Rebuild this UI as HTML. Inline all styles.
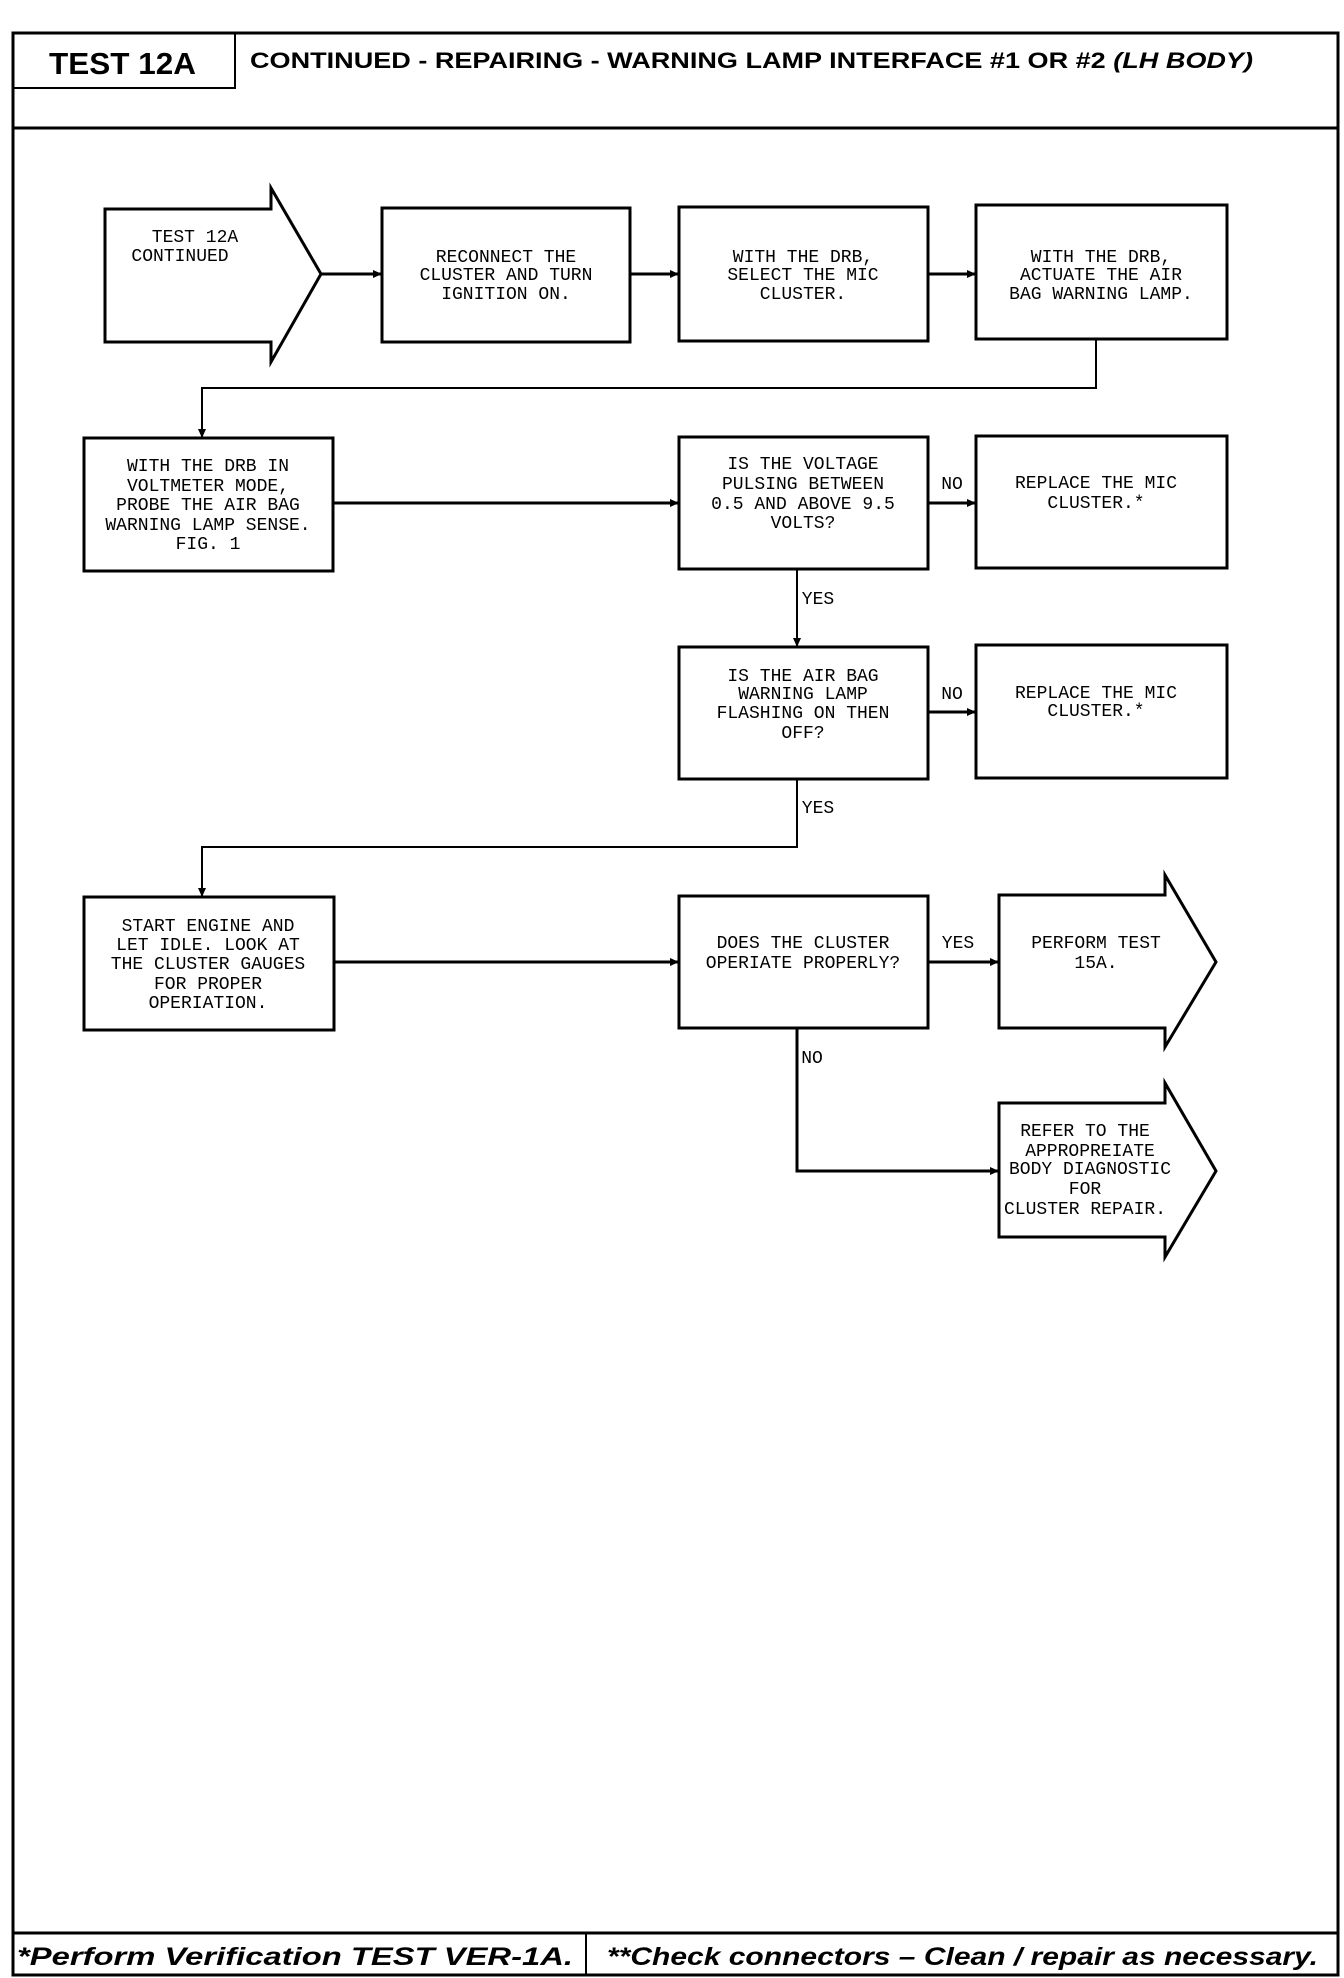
<!DOCTYPE html>
<html><head><meta charset="utf-8"><style>
html,body{margin:0;padding:0;background:#fff;}
svg{display:block;}
.t{font-family:"Liberation Mono",monospace;font-size:18px;text-anchor:middle;fill:#000;}
</style></head><body>
<svg width="1344" height="1978" viewBox="0 0 1344 1978" xmlns="http://www.w3.org/2000/svg">
<defs><marker id="a" markerWidth="10" markerHeight="10" refX="9" refY="5" orient="auto" markerUnits="userSpaceOnUse"><path d="M0,1 L9,5 L0,9 Z" fill="#000"/></marker></defs>
<g fill="none" stroke="#000">
<rect x="13" y="33" width="1325" height="1942" stroke-width="3"/>
<line x1="13" y1="128" x2="1338" y2="128" stroke-width="3"/>
<polyline points="13,88 235,88 235,33" stroke-width="2"/>
<line x1="13" y1="1933" x2="1338" y2="1933" stroke-width="3"/>
<line x1="586" y1="1933" x2="586" y2="1975" stroke-width="2"/>
<g stroke-width="3">
<polygon points="105,209 271,209 271,188 321,274 271,362 271,342 105,342"/>
<rect x="382" y="208" width="248" height="134"/>
<rect x="679" y="207" width="249" height="134"/>
<rect x="976" y="205" width="251" height="134"/>
<rect x="84" y="438" width="249" height="133"/>
<rect x="679" y="437" width="249" height="132"/>
<rect x="976" y="436" width="251" height="132"/>
<rect x="679" y="647" width="249" height="132"/>
<rect x="976" y="645" width="251" height="133"/>
<rect x="84" y="897" width="250" height="133"/>
<rect x="679" y="896" width="249" height="132"/>
<polygon points="999,895 1165,895 1165,875 1216,962 1165,1047 1165,1028 999,1028"/>
<polygon points="999,1103 1165,1103 1165,1083 1216,1171 1165,1257 1165,1237 999,1237"/>
<line x1="321" y1="274" x2="382" y2="274" marker-end="url(#a)"/>
<line x1="630" y1="274" x2="679" y2="274" marker-end="url(#a)"/>
<line x1="928" y1="274" x2="976" y2="274" marker-end="url(#a)"/>
<line x1="333" y1="503" x2="679" y2="503" marker-end="url(#a)"/>
<line x1="928" y1="503" x2="976" y2="503" marker-end="url(#a)"/>
<line x1="928" y1="712" x2="976" y2="712" marker-end="url(#a)"/>
<line x1="334" y1="962" x2="679" y2="962" marker-end="url(#a)"/>
<line x1="928" y1="962" x2="999" y2="962" marker-end="url(#a)"/>
<polyline points="797,1028 797,1171 999,1171" marker-end="url(#a)"/>
</g>
<g stroke-width="2">
<polyline points="1096,339 1096,388 202,388 202,438" marker-end="url(#a)"/>
<line x1="797" y1="569" x2="797" y2="647" marker-end="url(#a)"/>
<polyline points="797,779 797,847 202,847 202,897" marker-end="url(#a)"/>
</g>
</g>
<text x="49" y="74" font-family="Liberation Sans,sans-serif" font-weight="bold" font-size="31" textLength="147" lengthAdjust="spacingAndGlyphs">TEST 12A</text>
<text x="250" y="68" font-family="Liberation Sans,sans-serif" font-weight="bold" font-size="22" textLength="1003" lengthAdjust="spacingAndGlyphs">CONTINUED - REPAIRING - WARNING LAMP INTERFACE #1 OR #2  <tspan font-style="italic">(LH BODY)</tspan></text>
<text x="17" y="1965" font-family="Liberation Sans,sans-serif" font-weight="bold" font-style="italic" font-size="25" textLength="556" lengthAdjust="spacingAndGlyphs">*Perform Verification TEST VER-1A.</text>
<text x="607" y="1965" font-family="Liberation Sans,sans-serif" font-weight="bold" font-style="italic" font-size="25" textLength="711" lengthAdjust="spacingAndGlyphs">**Check connectors – Clean / repair as necessary.</text>
<g class="t">
<text x="195" y="242">TEST 12A</text><text x="180" y="261">CONTINUED</text>
<text x="506" y="262">RECONNECT THE</text><text x="506" y="280">CLUSTER AND TURN</text><text x="506" y="299">IGNITION ON.</text>
<text x="803" y="262">WITH THE DRB,</text><text x="803" y="280">SELECT THE MIC</text><text x="803" y="299">CLUSTER.</text>
<text x="1101" y="262">WITH THE DRB,</text><text x="1101" y="280">ACTUATE THE AIR</text><text x="1101" y="299">BAG WARNING LAMP.</text>
<text x="208" y="471">WITH THE DRB IN</text><text x="208" y="491">VOLTMETER MODE,</text><text x="208" y="510">PROBE THE AIR BAG</text><text x="208" y="530">WARNING LAMP SENSE.</text><text x="208" y="549">FIG. 1</text>
<text x="803" y="469">IS THE VOLTAGE</text><text x="803" y="489">PULSING BETWEEN</text><text x="803" y="509">0.5 AND ABOVE 9.5</text><text x="803" y="528">VOLTS?</text>
<text x="1096" y="488">REPLACE THE MIC</text><text x="1096" y="508">CLUSTER.*</text>
<text x="803" y="681">IS THE AIR BAG</text><text x="803" y="699">WARNING LAMP</text><text x="803" y="718">FLASHING ON THEN</text><text x="803" y="738">OFF?</text>
<text x="1096" y="698">REPLACE THE MIC</text><text x="1096" y="716">CLUSTER.*</text>
<text x="208" y="931">START ENGINE AND</text><text x="208" y="950">LET IDLE. LOOK AT</text><text x="208" y="969">THE CLUSTER GAUGES</text><text x="208" y="989">FOR PROPER</text><text x="208" y="1008">OPERIATION.</text>
<text x="803" y="948">DOES THE CLUSTER</text><text x="803" y="968">OPERIATE PROPERLY?</text>
<text x="1096" y="948">PERFORM TEST</text><text x="1096" y="968">15A.</text>
<text x="1085" y="1136">REFER TO THE</text><text x="1090" y="1156">APPROPREIATE</text><text x="1090" y="1174">BODY DIAGNOSTIC</text><text x="1085" y="1194">FOR</text><text x="1085" y="1214">CLUSTER REPAIR.</text>
<text x="952" y="489">NO</text><text x="952" y="699">NO</text>
<text x="818" y="604">YES</text><text x="818" y="813">YES</text>
<text x="958" y="948">YES</text><text x="812" y="1063">NO</text>
</g>
</svg>
</body></html>
